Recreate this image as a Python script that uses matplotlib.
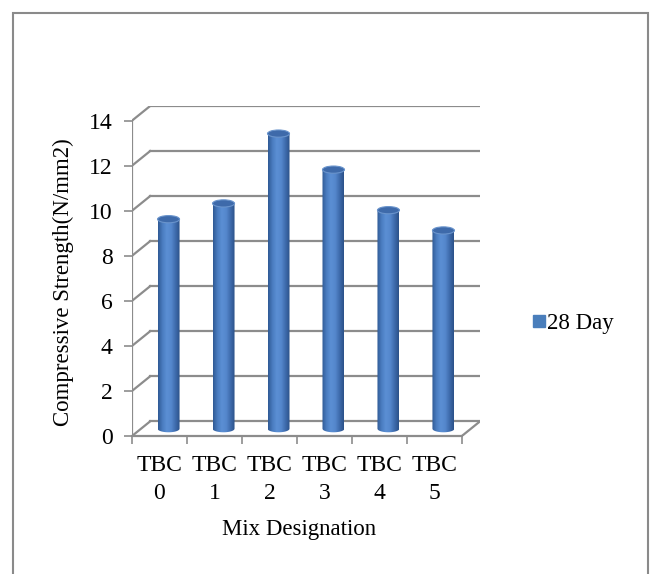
import numpy as np
import matplotlib
matplotlib.use("Agg")
import matplotlib.pyplot as plt
from matplotlib.patches import Ellipse, Polygon, Rectangle
from matplotlib.lines import Line2D
from matplotlib.colors import LinearSegmentedColormap

# data
mixes = ["TBC\n0", "TBC\n1", "TBC\n2", "TBC\n3", "TBC\n4", "TBC\n5"]
strength_28 = [9.3, 10.0, 13.1, 11.5, 9.7, 8.8]
y_ticks = [0, 2, 4, 6, 8, 10, 12, 14]
series_name = "28 Day"

plt.rcParams['font.family'] = ['Liberation Serif', 'DejaVu Serif']
fs = 16.5

grid_col = "#8c8c8c"
dx, dy = 0.33, 0.65          # fake 3D depth offset in data units
bar_w, ell_h = 0.40, 0.32     # cylinder width / ellipse height

fig = plt.figure(figsize=(6.5, 5.74), dpi=100)
# outer chart border
fig.patches.append(Rectangle((13 / 650, -0.05), 635 / 650, 1.05 - 13 / 574,
                             transform=fig.transFigure, fill=False,
                             edgecolor="#8a8a8a", lw=1.5))

ax = fig.add_axes([132 / 650, (574 - 436) / 574, 348 / 650, 330 / 574])
n = len(mixes)
ymax = y_ticks[-1]
ax.set_xlim(0, n + dx)
ax.set_ylim(0, ymax + dy)
for s in ax.spines.values():
    s.set_visible(False)

# back wall gridlines + left wall diagonals
for v in y_ticks:
    ax.plot([dx, n + dx], [v + dy, v + dy], color=grid_col, lw=1.6, zorder=1)
    ax.plot([0, dx], [v, v + dy], color=grid_col, lw=1.6, zorder=1)
# front axis and floor
ax.plot([0, 0], [0, ymax], color=grid_col, lw=1.6, zorder=1)
ax.plot([0, n], [0, 0], color=grid_col, lw=1.6, zorder=1, clip_on=False)
ax.plot([n, n + dx], [0, dy], color=grid_col, lw=1.6, zorder=1)

# cylinder shading
cmap = LinearSegmentedColormap.from_list(
    "cyl", ["#2f5a95", "#4a7cc0", "#5b8fd4", "#5588cd", "#3f6cad", "#2b5189"])
grad = np.linspace(0, 1, 64).reshape(1, -1)

t = np.linspace(np.pi, 2 * np.pi, 40)
for i, val in enumerate(strength_28):
    cx = i + 0.5 + dx / 2
    base = dy / 2
    top = base + val
    x0, x1 = cx - bar_w / 2, cx + bar_w / 2
    bx = cx + bar_w / 2 * np.cos(t)
    by = base + ell_h / 2 * np.sin(t)
    pts = np.column_stack([np.r_[x0, bx, x1], np.r_[top, by, top]])
    body = Polygon(pts, closed=True, facecolor="none", edgecolor="none")
    ax.add_patch(body)
    im = ax.imshow(grad, cmap=cmap, extent=[x0, x1, base - ell_h, top],
                   aspect="auto", zorder=3, interpolation="bilinear")
    im.set_clip_path(body)
    ax.add_patch(Ellipse((cx, top), bar_w, ell_h, facecolor="#3e6aaa",
                         edgecolor="#6a94cc", lw=0.8, zorder=4))

ax.set_xlim(0, n + dx)
ax.set_ylim(0, ymax + dy)

ax.set_yticks(y_ticks)
ax.tick_params(axis="y", direction="out", length=6, color=grid_col,
               width=1.2, pad=8, labelsize=fs + 0.5)
ax.set_xticks(range(n + 1))
ax.set_xticklabels([])
ax.set_xticks([i + 0.5 for i in range(n)], minor=True)
ax.set_xticklabels(mixes, minor=True, linespacing=1.38)
ax.tick_params(axis="x", which="major", direction="out", length=6,
               color=grid_col, width=1.2)
ax.tick_params(axis="x", which="minor", length=0, pad=14, labelsize=fs + 0.5)

fig.text(63 / 650, 1 - 282 / 574, "Compressive Strength(N/mm2)",
         rotation=90, ha="center", va="center", fontsize=fs)
fig.text(299 / 650, 1 - 529 / 574, "Mix Designation",
         ha="center", va="center", fontsize=fs)

handle = Line2D([], [], marker="s", linestyle="none", markersize=8,
                markerfacecolor="#4a7ebb", markeredgecolor="#4a7ebb")
fig.legend([handle], [series_name], loc="center left",
           bbox_to_anchor=(511 / 650, 1 - 323 / 574), frameon=False,
           handletextpad=0.05, handlelength=0.6, fontsize=fs)

fig.savefig("out.png", dpi=100)
